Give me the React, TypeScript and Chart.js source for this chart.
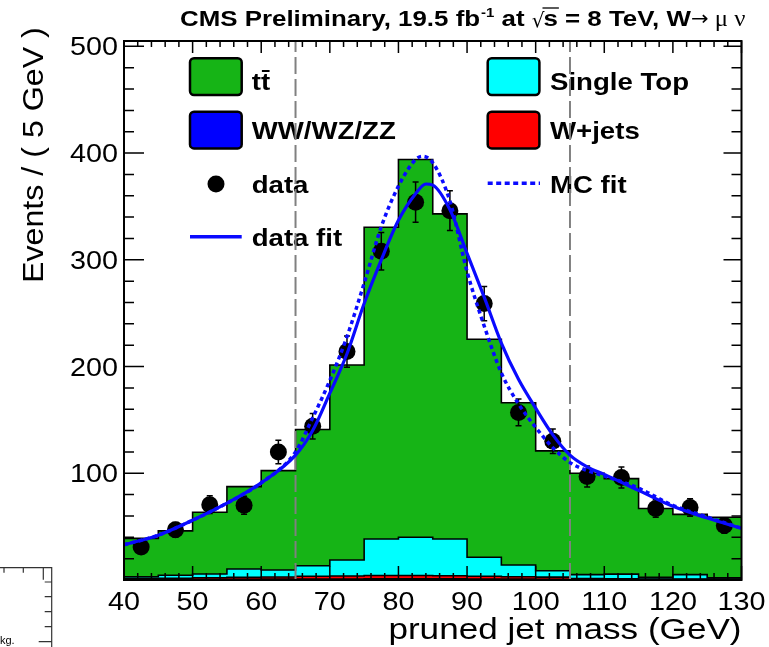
import React, { useEffect, useRef } from "react";
import { Chart, registerables } from "chart.js";
Chart.register(...registerables);

// ---------- data ----------
const binLowEdges = [40, 45, 50, 55, 60, 65, 70, 75, 80, 85, 90, 95, 100, 105, 110, 115, 120, 125];
const binUpperEdge = 130;
const ttbarEvents = [36, 41.6, 57.9, 77.2, 93.1, 127.6, 182.8, 292.1, 354, 304.6, 204.3, 152, 112.3, 95, 89.5, 64.5, 56.5, 56.8];
const singleTopEvents = [1.5, 2.7, 3.5, 7.8, 6.6, 9.9, 14.9, 34.2, 35.8, 34.4, 17.8, 11.0, 6.0, 3.6, 4.4, 1.5, 4.1, 1.2];
const wjetsEvents = [1.0, 1.2, 1.5, 1.8, 2.0, 2.5, 2.8, 3.0, 3.0, 2.8, 2.5, 2.2, 2.0, 0.8, 0.6, 0.5, 0.5, 0.4];
const dibosonEvents = [0.5, 0.5, 0.6, 0.7, 0.8, 1.0, 1.0, 1.2, 1.2, 1.2, 1.0, 0.8, 0.7, 0.6, 0.5, 0.5, 0.4, 0.4];

const dataMass = [42.5, 47.5, 52.5, 57.5, 62.5, 67.5, 72.5, 77.5, 82.5, 87.5, 92.5, 97.5, 102.5, 107.5, 112.5, 117.5, 122.5, 127.5];
const dataEvents = [31, 47, 70.6, 70, 120, 144, 214, 308, 354, 346, 259, 157, 130, 97, 96, 67, 68, 51];
const dataErrors = [5.6, 6.9, 8.4, 8.4, 11, 12, 14.6, 17.5, 18.8, 18.6, 16.1, 12.5, 11.4, 9.8, 9.8, 8.2, 8.2, 7.1];

const dataFitMass = [40, 45, 50, 55, 60, 65, 67.5, 70, 72.5, 75, 77.5, 80, 82.5, 84, 85, 87.5, 90, 92.5, 95, 97.5, 100, 102.5, 105, 107.5, 110, 115, 120, 125, 130];
const dataFitEvents = [33, 42, 56, 72, 91, 117, 140, 175, 212, 259, 300, 337, 362, 371, 370, 347, 306, 265, 222, 188, 161, 136, 117, 106, 99, 84, 69, 58, 48.5];
const mcFitMass = [40, 45, 50, 55, 60, 65, 67.5, 70, 72.5, 75, 77.5, 80, 82.5, 83.5, 85, 87.5, 90, 92.5, 95, 97.5, 100, 102.5, 105, 107.5, 110, 115, 120, 125, 130];
const mcFitEvents = [33, 42, 56, 72, 91, 120, 152, 187, 228, 278, 331, 369, 394, 397, 391, 355, 289, 238, 194, 165, 143, 124, 110, 102.5, 97.5, 86, 70, 59, 48.5];

const massWindow = [65, 105];
const xRange = [40, 130];
const yRange = [0, 505];
const xTickValues = [40, 50, 60, 70, 80, 90, 100, 110, 120, 130];
const xTickLabels = ["40", "50", "60", "70", "80", "90", "100", "110", "120", "130"];
const yTickValues = [100, 200, 300, 400, 500];
const yTickLabels = ["100", "200", "300", "400", "500"];

const titleText = "CMS Preliminary, 19.5 fb";
const xTitle = "pruned jet mass (GeV)";
const yTitle = "Events / ( 5 GeV )";

// ---------- colours ----------
const GREEN = "#16b416";
const CYAN = "#00ffff";
const RED = "#ff0000";
const BLUE = "#0000ff";
const FIT_BLUE = "#0a0aff";

// ---------- helpers ----------
const cumulate = (...layers: number[][]) =>
  binLowEdges.map((_, i) => layers.reduce((s, l) => s + l[i], 0));
const dibosonTop = cumulate(dibosonEvents);
const wjetsTop = cumulate(dibosonEvents, wjetsEvents);
const singleTopTop = cumulate(dibosonEvents, wjetsEvents, singleTopEvents);
const ttbarTop = cumulate(dibosonEvents, wjetsEvents, singleTopEvents, ttbarEvents);

const steps = (vals: number[]) => [
  ...binLowEdges.map((x, i) => ({ x, y: vals[i] })),
  { x: binUpperEdge, y: vals[vals.length - 1] },
];

const SX = 1.15;
function sText(ctx: CanvasRenderingContext2D, text: string, x: number, y: number, font: string, align: "left" | "right" | "center" = "left", sx = SX) {
  ctx.save();
  ctx.font = font;
  const w = ctx.measureText(text).width * sx;
  const x0 = align === "left" ? x : align === "right" ? x - w : x - w / 2;
  ctx.translate(x0, y);
  ctx.scale(sx, 1);
  ctx.textAlign = "left";
  ctx.textBaseline = "alphabetic";
  ctx.fillStyle = "#000";
  ctx.fillText(text, 0, 0);
  ctx.restore();
  return w;
}

const histDataset = (label: string, vals: number[], color: string, order: number) => ({
  label,
  data: steps(vals),
  stepped: true,
  fill: "origin",
  backgroundColor: color,
  borderColor: "#000",
  borderWidth: 1.6,
  pointRadius: 0,
  order,
});

const POINTS_INDEX = 6;

const legendPlugin = {
  id: "rootLegend",
  beforeDatasetsDraw(chart: any) {
    const ctx: CanvasRenderingContext2D = chart.ctx;
    ctx.save();
    const bold = "bold 24px 'Liberation Sans', Arial, sans-serif";
    const box = (x: number, y: number, c: string) => {
      ctx.beginPath();
      (ctx as any).roundRect(x, y, 51.7, 36.7, 4);
      ctx.fillStyle = c;
      ctx.fill();
      ctx.lineWidth = 2.5;
      ctx.strokeStyle = "#000";
      ctx.stroke();
    };
    box(190, 58.3, GREEN);
    box(190, 111.7, BLUE);
    box(487.7, 58.3, CYAN);
    box(487.7, 111.7, RED);
    // tt-bar
    const wt = sText(ctx, "tt", 251.7, 90, bold);
    ctx.beginPath();
    ctx.lineWidth = 2;
    ctx.strokeStyle = "#000";
    ctx.moveTo(251.7 + wt / 2 + 1, 71);
    ctx.lineTo(251.7 + wt - 0.5, 71);
    ctx.stroke();
    sText(ctx, "WW/WZ/ZZ", 251.7, 139, bold);
    sText(ctx, "data", 251.7, 192.5, bold);
    sText(ctx, "data fit", 251.7, 245.5, bold);
    sText(ctx, "Single Top", 550, 90, bold);
    sText(ctx, "W+jets", 550, 139, bold);
    sText(ctx, "MC fit", 550, 192.5, bold);
    // markers
    ctx.beginPath();
    ctx.fillStyle = "#000";
    ctx.arc(216, 184, 8.5, 0, Math.PI * 2);
    ctx.fill();
    ctx.beginPath();
    ctx.strokeStyle = FIT_BLUE;
    ctx.lineWidth = 3.5;
    ctx.moveTo(190, 236.7);
    ctx.lineTo(241.7, 236.7);
    ctx.stroke();
    ctx.beginPath();
    ctx.setLineDash([5, 3.5]);
    ctx.moveTo(487.7, 183.3);
    ctx.lineTo(540, 183.3);
    ctx.stroke();
    ctx.restore();
  },
  afterDatasetDraw(chart: any, args: any) {
    if (args.index !== POINTS_INDEX) return;
    const ctx: CanvasRenderingContext2D = chart.ctx;
    const { x, y } = chart.scales;
    ctx.save();
    ctx.strokeStyle = "#000";
    ctx.lineWidth = 1.5;
    ctx.beginPath();
    dataMass.forEach((m, i) => {
      const px = x.getPixelForValue(m);
      const lo = y.getPixelForValue(dataEvents[i] - dataErrors[i]);
      const hi = y.getPixelForValue(dataEvents[i] + dataErrors[i]);
      ctx.moveTo(px, lo);
      ctx.lineTo(px, hi);
      ctx.moveTo(px - 3, lo);
      ctx.lineTo(px + 3, lo);
      ctx.moveTo(px - 3, hi);
      ctx.lineTo(px + 3, hi);
    });
    ctx.stroke();
    ctx.restore();
  },
  afterDraw(chart: any) {
    const ctx: CanvasRenderingContext2D = chart.ctx;
    const a = chart.chartArea;
    const { x, y } = chart.scales;
    ctx.save();
    // ticks
    ctx.strokeStyle = "#000";
    ctx.lineWidth = 1.5;
    ctx.beginPath();
    for (let v = xRange[0]; v <= xRange[1]; v += 2) {
      const px = x.getPixelForValue(v);
      const major = (v - xRange[0]) % 10 === 0;
      ctx.moveTo(px, a.bottom);
      ctx.lineTo(px, a.bottom - (major ? 14 : 7));
      ctx.moveTo(px, a.top);
      ctx.lineTo(px, a.top + (major ? 12 : 6));
    }
    for (let v = 0; v <= 500; v += 20) {
      const py = y.getPixelForValue(v);
      const major = v % 100 === 0;
      ctx.moveTo(a.left, py);
      ctx.lineTo(a.left + (major ? 20 : 10), py);
      ctx.moveTo(a.right, py);
      ctx.lineTo(a.right - (major ? 18 : 10), py);
    }
    ctx.stroke();
    ctx.lineWidth = 2;
    ctx.strokeRect(a.left, a.top, a.right - a.left, a.bottom - a.top);

    // tick labels
    const reg = "25px 'Liberation Sans', Arial, sans-serif";
    xTickValues.forEach((v, i) => sText(ctx, xTickLabels[i], x.getPixelForValue(v), 609.5, reg, "center"));
    yTickValues.forEach((v, i) => sText(ctx, yTickLabels[i], 118, y.getPixelForValue(v) + 9, reg, "right"));

    // axis titles
    sText(ctx, xTitle, a.right, 639, "30px 'Liberation Sans', Arial, sans-serif", "right", 1.17);
    ctx.save();
    ctx.translate(43, 283);
    ctx.rotate(-Math.PI / 2);
    sText(ctx, yTitle, 0, 0, "29px 'Liberation Sans', Arial, sans-serif", "left", 1.11);
    ctx.restore();

    // title
    const tb = "bold 22.5px 'Liberation Sans', Arial, sans-serif";
    let cx = 180;
    const by = 26;
    cx += sText(ctx, titleText, cx, by, tb);
    cx += sText(ctx, "-1", cx + 1, by - 9, "bold 13px 'Liberation Sans', Arial, sans-serif") + 1;
    cx += sText(ctx, " at ", cx, by, tb);
    const wr = sText(ctx, "\u221A", cx, by + 1, "20px 'DejaVu Sans', sans-serif", "left", 1.0);
    const sx0 = cx + wr - 1;
    const ws = sText(ctx, "s", sx0, by, tb);
    ctx.beginPath();
    ctx.lineWidth = 1.3;
    ctx.moveTo(cx + wr - 2, by - 18);
    ctx.lineTo(sx0 + ws + 1, by - 18);
    ctx.stroke();
    cx = sx0 + ws;
    cx += sText(ctx, " = 8 TeV, W", cx, by, tb);
    cx += sText(ctx, "\u2192", cx, by - 1, "20px 'DejaVu Sans', sans-serif", "left", 1.05);
    sText(ctx, " \u03BC \u03BD", cx, by, "22.5px 'Liberation Serif', serif", "left", 1.1);

    // fragment of a neighbouring figure (bottom-left)
    ctx.beginPath();
    ctx.lineWidth = 1.2;
    ctx.strokeStyle = "#333";
    ctx.moveTo(0, 567.7);
    ctx.lineTo(51.7, 567.7);
    ctx.lineTo(51.7, 647);
    [4, 23.3, 43.3].forEach((tx, i) => {
      ctx.moveTo(tx, 567.7);
      ctx.lineTo(tx, 567.7 + (i === 2 ? 12 : 5));
    });
    [582, 596.7, 611.7, 626.7, 641.7].forEach((ty, i) => {
      ctx.moveTo(51.7, ty);
      ctx.lineTo(51.7 - (i === 4 ? 13 : 7), ty);
    });
    ctx.stroke();
    sText(ctx, "kg.", 0, 644, "11px 'Liberation Sans', Arial, sans-serif", "left", 1.0);
    ctx.restore();
  },
};

export default function App() {
  const ref = useRef<HTMLCanvasElement>(null);
  useEffect(() => {
    if (!ref.current) return;
    const cutLine = (m: number) => ({
      label: "cut",
      data: [
        { x: m, y: yRange[0] },
        { x: m, y: yRange[1] },
      ],
      borderColor: "#808080",
      borderWidth: 2,
      borderDash: [17, 5],
      pointRadius: 0,
      fill: false,
      order: 6,
    });
    const chart = new Chart(ref.current, {
      type: "line",
      data: {
        datasets: [
          histDataset("tt", ttbarTop, GREEN, 10),
          histDataset("Single Top", singleTopTop, CYAN, 9),
          histDataset("W+jets", wjetsTop, RED, 8),
          histDataset("WW/WZ/ZZ", dibosonTop, BLUE, 7),
          cutLine(massWindow[0]),
          cutLine(massWindow[1]),
          {
            label: "data",
            data: dataMass.map((m, i) => ({ x: m, y: dataEvents[i] })),
            showLine: false,
            pointRadius: 8.5,
            pointBackgroundColor: "#000",
            pointBorderColor: "#000",
            pointBorderWidth: 0,
            order: 5,
          },
          {
            label: "MC fit",
            data: mcFitMass.map((m, i) => ({ x: m, y: mcFitEvents[i] })),
            borderColor: FIT_BLUE,
            borderWidth: 3.5,
            borderDash: [4, 3.5],
            cubicInterpolationMode: "monotone",
            pointRadius: 0,
            fill: false,
            order: 4,
          },
          {
            label: "data fit",
            data: dataFitMass.map((m, i) => ({ x: m, y: dataFitEvents[i] })),
            borderColor: FIT_BLUE,
            borderWidth: 3.2,
            cubicInterpolationMode: "monotone",
            pointRadius: 0,
            fill: false,
            order: 3,
          },
        ] as any,
      },
      options: {
        responsive: true,
        maintainAspectRatio: false,
        animation: false,
        events: [],
        layout: { padding: { left: 124, right: 27.5, top: 41, bottom: 67 } },
        scales: {
          x: { type: "linear", min: xRange[0], max: xRange[1], display: false },
          y: { type: "linear", min: yRange[0], max: yRange[1], display: false },
        },
        plugins: {
          legend: { display: false },
          tooltip: { enabled: false },
        },
      } as any,
      plugins: [legendPlugin],
    });
    return () => chart.destroy();
  }, []);
  return (
    <div style={{ position: "absolute", left: 0, top: 0, width: 769, height: 647 }}>
      <canvas ref={ref} />
    </div>
  );
}
